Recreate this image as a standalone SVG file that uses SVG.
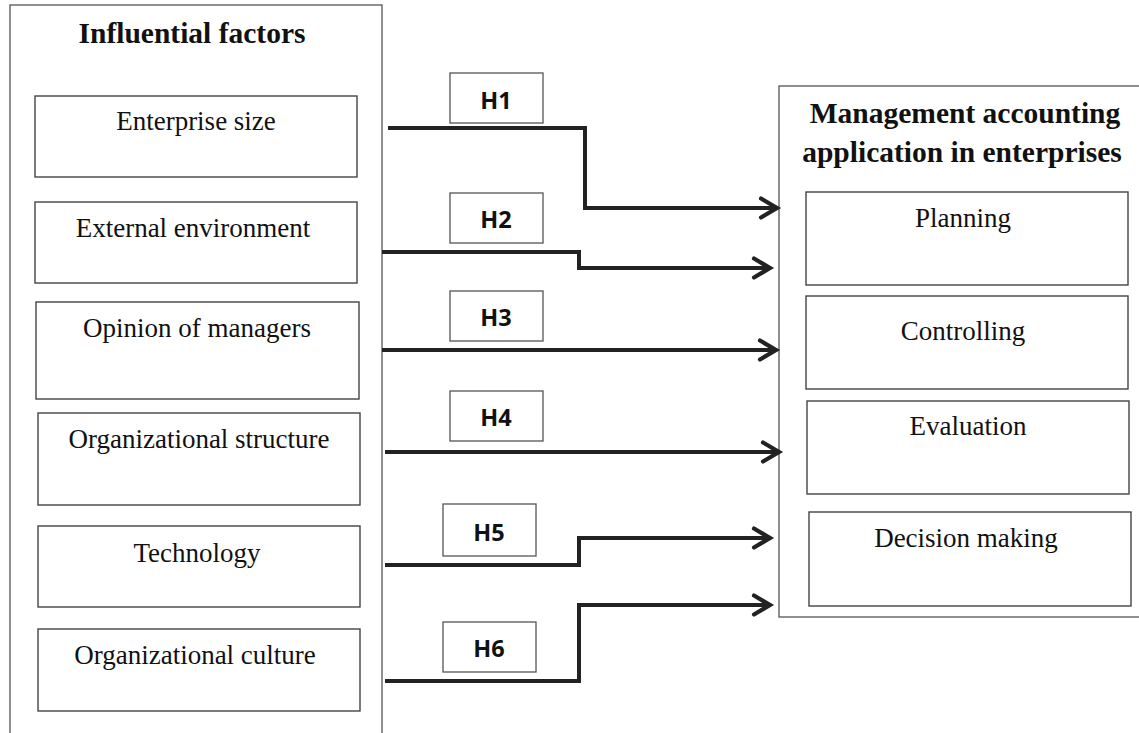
<svg xmlns="http://www.w3.org/2000/svg" width="1139" height="733" viewBox="0 0 1139 733">
  <style>
    .frame { fill: #fff; stroke: #555; stroke-width: 1.3; }
    .box { fill: #fff; stroke: #444; stroke-width: 1.4; }
    .hbox { fill: #fff; stroke: #555; stroke-width: 1.3; }
    .title { font-family: "Liberation Serif", "Times New Roman", serif; font-weight: bold; font-size: 29.5px; fill: #111; text-anchor: middle; }
    .label { font-family: "Liberation Serif", "Times New Roman", serif; font-size: 27px; fill: #111; text-anchor: middle; }
    .hlabel { font-family: "Open Sans", "Liberation Sans", sans-serif; font-weight: bold; font-size: 23.5px; fill: #111; text-anchor: middle; }
    .link { fill: none; stroke: #222; stroke-width: 4; stroke-linejoin: miter; marker-end: url(#chevron); }
  </style>
  <defs>
    <marker id="chevron" markerUnits="userSpaceOnUse" markerWidth="30" markerHeight="30" refX="20" refY="12" orient="auto">
      <polyline points="3,2.5 19,12 3,21.5" fill="none" stroke="#222" stroke-width="4.2" stroke-linecap="round" stroke-linejoin="miter"/>
    </marker>
  </defs>

  <rect width="1139" height="733" fill="#fff"/>

  <!-- Left panel: influential factors -->
  <g id="influential-factors">
    <rect class="frame" x="10" y="5" width="372" height="760"/>
    <text class="title" x="192" y="43">Influential factors</text>
  </g>
  <g id="enterprise-size">
    <rect class="box" x="35" y="96" width="322" height="81"/>
    <text class="label" x="196" y="130">Enterprise size</text>
  </g>
  <g id="external-environment">
    <rect class="box" x="35" y="202" width="322" height="81"/>
    <text class="label" x="193" y="237">External environment</text>
  </g>
  <g id="opinion-of-managers">
    <rect class="box" x="36" y="302" width="323" height="97"/>
    <text class="label" x="197" y="337">Opinion of managers</text>
  </g>
  <g id="organizational-structure">
    <rect class="box" x="38" y="413" width="322" height="92"/>
    <text class="label" x="199" y="448">Organizational structure</text>
  </g>
  <g id="technology">
    <rect class="box" x="38" y="526" width="322" height="81"/>
    <text class="label" x="197" y="562">Technology</text>
  </g>
  <g id="organizational-culture">
    <rect class="box" x="38" y="629" width="322" height="82"/>
    <text class="label" x="195" y="664">Organizational culture</text>
  </g>

  <!-- Right panel: management accounting application -->
  <g id="management-accounting">
    <rect class="frame" x="779" y="86" width="380" height="531"/>
    <text class="title" x="965" y="123">Management accounting</text>
    <text class="title" x="962" y="162">application in enterprises</text>
  </g>
  <g id="planning">
    <rect class="box" x="806" y="192" width="322" height="93"/>
    <text class="label" x="963" y="227">Planning</text>
  </g>
  <g id="controlling">
    <rect class="box" x="806" y="296" width="322" height="93"/>
    <text class="label" x="963" y="340">Controlling</text>
  </g>
  <g id="evaluation">
    <rect class="box" x="807" y="401" width="322" height="93"/>
    <text class="label" x="968" y="435">Evaluation</text>
  </g>
  <g id="decision-making">
    <rect class="box" x="809" y="512" width="322" height="94"/>
    <text class="label" x="966" y="547">Decision making</text>
  </g>

  <!-- Hypothesis labels -->
  <g id="h1"><rect class="hbox" x="450" y="73" width="93" height="50"/><text class="hlabel" x="496" y="109">H1</text></g>
  <g id="h2"><rect class="hbox" x="450" y="193" width="93" height="50"/><text class="hlabel" x="496" y="228">H2</text></g>
  <g id="h3"><rect class="hbox" x="450" y="291" width="93" height="50"/><text class="hlabel" x="496" y="326">H3</text></g>
  <g id="h4"><rect class="hbox" x="450" y="391" width="93" height="50"/><text class="hlabel" x="496" y="426">H4</text></g>
  <g id="h5"><rect class="hbox" x="443" y="504" width="93" height="52"/><text class="hlabel" x="489" y="541">H5</text></g>
  <g id="h6"><rect class="hbox" x="443" y="622" width="93" height="50"/><text class="hlabel" x="489" y="657">H6</text></g>

  <!-- Connectors -->
  <g id="connectors">
    <path class="link" d="M388,128 H585 V208 H778"/>
    <path class="link" d="M382,252 H579 V268 H771"/>
    <path class="link" d="M382,350 H777"/>
    <path class="link" d="M385,452 H780"/>
    <path class="link" d="M385,565 H579 V538 H771"/>
    <path class="link" d="M385,681 H579 V605 H771"/>
  </g>
</svg>
